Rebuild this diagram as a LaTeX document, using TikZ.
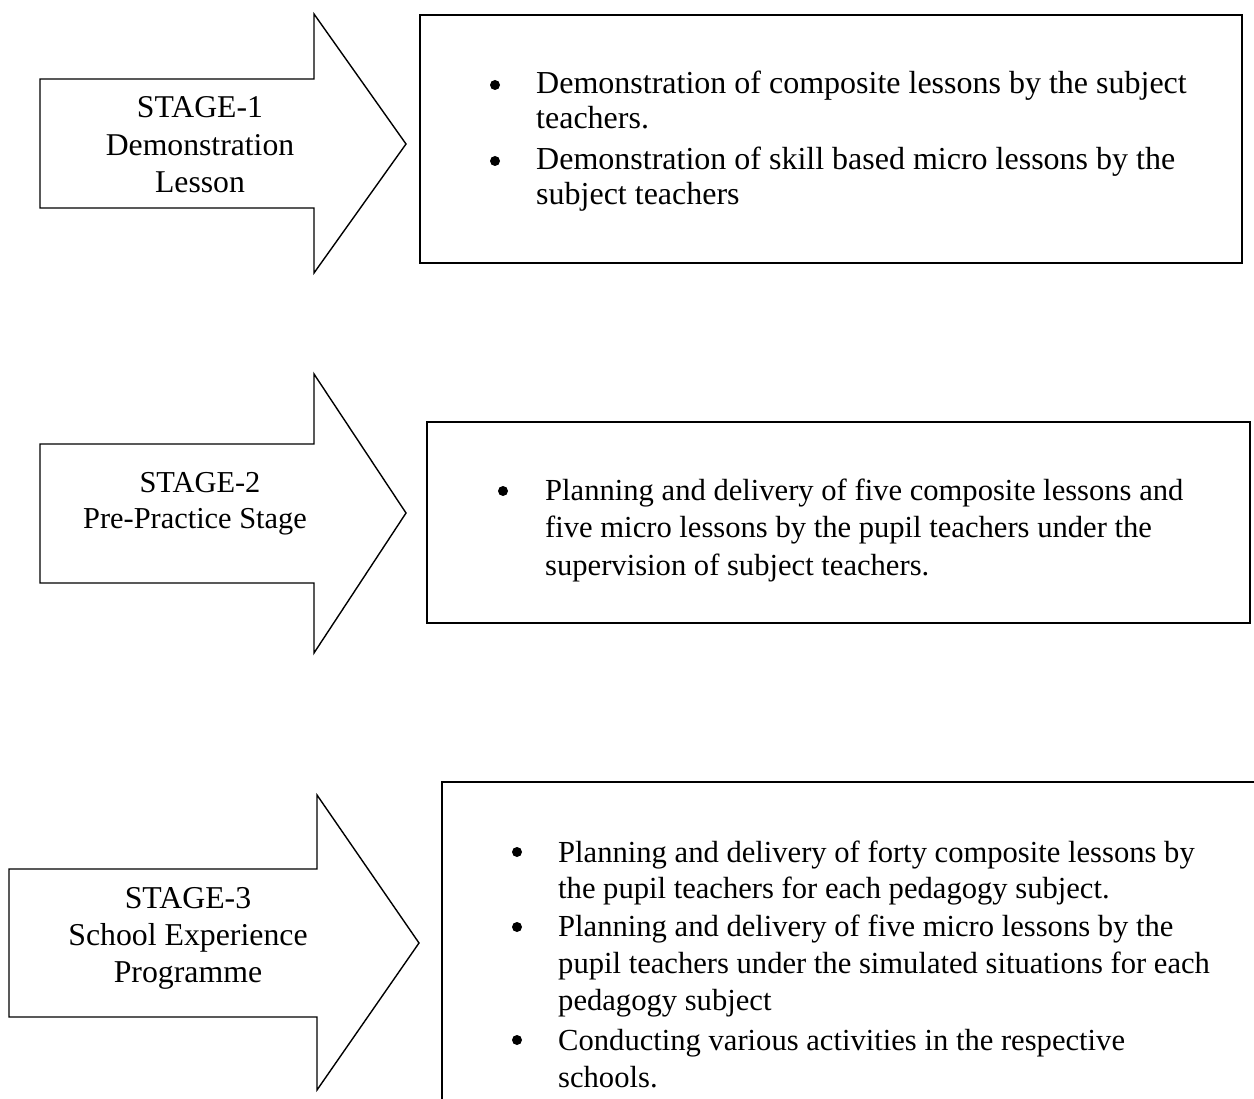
\documentclass[tikz,border=0pt]{standalone}
\usepackage{fontspec}
\setmainfont{Liberation Serif}
\begin{document}
\begin{tikzpicture}[x=1pt,y=-1pt,
  arr/.style={draw=black, line width=1.4pt, line join=miter},
  box/.style={draw=black, line width=2pt},
  txt/.style={font=\fontsize{#1}{37}\selectfont, inner sep=0pt},
  lbl/.style={txt=#1, anchor=base},
  ln/.style={txt=#1, anchor=base west},
  bul/.style={circle, fill=black, minimum size=10pt, inner sep=0pt}]
\useasboundingbox (0,0) rectangle (1254,1099);
\fill[white] (0,0) rectangle (1254,1099);

% ---------- Stage 1 ----------
\draw[arr] (40,79) -- (314,79) -- (314,14) -- (406,144) -- (314,273) -- (314,208) -- (40,208) -- cycle;
\node[lbl=31.7] (s1a) at (200,118) {STAGE-1};
\node[lbl=31.7] (s1b) at (200,156) {Demonstration};
\node[lbl=31.7] (s1c) at (200,193) {Lesson};
\draw[box] (420,15) rectangle (1242,263);
\node[bul] (b1a) at (495,85) {};
\node[ln=32] (t1a) at (536,94) {Demonstration of composite lessons by the subject};
\node[ln=32] (t1b) at (536,129) {teachers.};
\node[bul] (b1b) at (495,161) {};
\node[ln=32] (t1c) at (536,170) {Demonstration of skill based micro lessons by the};
\node[ln=32] (t1d) at (536,205) {subject teachers};

% ---------- Stage 2 ----------
\draw[arr] (40,444) -- (314,444) -- (314,374) -- (406,513) -- (314,653) -- (314,583) -- (40,583) -- cycle;
\node[lbl=30.4] (s2a) at (200,492) {STAGE-2};
\node[lbl=30.4] (s2b) at (195,528) {Pre-Practice Stage};
\draw[box] (427,422) rectangle (1250,623);
\node[bul] (b2a) at (503,491) {};
\node[ln=30.6] (t2a) at (545,500) {Planning and delivery of five composite lessons and};
\node[ln=30.6] (t2b) at (545,537) {five micro lessons by the pupil teachers under the};
\node[ln=30.6] (t2c) at (545,575) {supervision of subject teachers.};

% ---------- Stage 3 ----------
\draw[arr] (9,869) -- (317,869) -- (317,795) -- (419,943) -- (317,1090) -- (317,1017) -- (9,1017) -- cycle;
\node[lbl=31.8] (s3a) at (188,908) {STAGE-3};
\node[lbl=31.8] (s3b) at (188,945) {School Experience};
\node[lbl=31.8] (s3c) at (188,982) {Programme};
\begin{scope}
  \clip (0,0) rectangle (1254,1099);
  \draw[box] (442,782) rectangle (1280,1130);
\end{scope}
\node[bul] (b3a) at (517,852) {};
\node[ln=30.6] (t3a) at (558,862) {Planning and delivery of forty composite lessons by};
\node[ln=30.6] (t3b) at (558,898) {the pupil teachers for each pedagogy subject.};
\node[bul] (b3b) at (517,927) {};
\node[ln=30.6] (t3c) at (558,936) {Planning and delivery of five micro lessons by the};
\node[ln=30.6] (t3d) at (558,973) {pupil teachers under the simulated situations for each};
\node[ln=30.6] (t3e) at (558,1010) {pedagogy subject};
\node[bul] (b3c) at (517,1040) {};
\node[ln=30.6] (t3f) at (558,1050) {Conducting various activities in the respective};
\node[ln=30.6] (t3g) at (558,1087) {schools.};
\end{tikzpicture}
\end{document}
